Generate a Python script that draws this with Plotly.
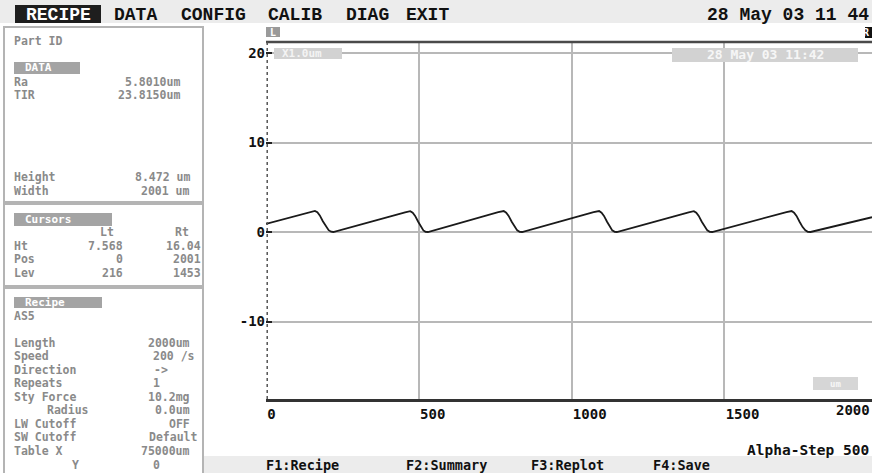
import plotly.graph_objects as go

# ---------------- data ----------------
profile_x_um = [0, 140, 152, 160, 168, 176, 186, 196, 205, 213, 220,
                455, 465, 472, 480, 488, 498, 507, 515, 522, 530,
                760, 770, 778, 786, 794, 804, 814, 822, 830, 838,
                1072, 1082, 1090, 1098, 1106, 1116, 1125, 1133, 1141, 1148,
                1383, 1393, 1400, 1408, 1416, 1426, 1436, 1444, 1452, 1460,
                1703, 1713, 1720, 1728, 1736, 1746, 1756, 1765, 1773, 1782,
                1983]
profile_y_um = [0.9, 2.2, 2.32, 2.35, 2.2, 1.85, 1.2, 0.6, 0.2, 0.03, 0.0,
                2.2, 2.32, 2.33, 2.15, 1.8, 1.15, 0.55, 0.18, 0.02, 0.0,
                2.22, 2.33, 2.34, 2.15, 1.8, 1.15, 0.55, 0.18, 0.02, 0.0,
                2.22, 2.33, 2.34, 2.15, 1.8, 1.15, 0.55, 0.18, 0.02, 0.0,
                2.2, 2.32, 2.33, 2.15, 1.8, 1.15, 0.55, 0.18, 0.02, 0.0,
                2.22, 2.33, 2.34, 2.15, 1.8, 1.15, 0.55, 0.18, 0.02, 0.0,
                1.65]

x_tick_vals = [0, 500, 1000, 1500, 2000]
y_tick_vals = [-10, 0, 10, 20]

menu_items = ["RECIPE", "DATA", "CONFIG", "CALIB", "DIAG", "EXIT"]
menu_clock = "28 May 03 11 44"
plot_stamp = "28 May 03 11:42"
scale_label = "X1.0um"
unit_label = "um"

data_labels = ["Ra", "TIR"]
data_values = ["5.8010um", "23.8150um"]
size_labels = ["Height", "Width"]
size_values = ["8.472 um", "2001 um"]

cursor_cols = ["Lt", "Rt"]
cursor_rows = ["Ht", "Pos", "Lev"]
cursor_lt = ["7.568", "0", "216"]
cursor_rt = ["16.04", "2001", "1453"]

recipe_name = "AS5"
recipe_labels = ["Length", "Speed", "Direction", "Repeats", "Sty Force",
                 "Radius", "LW Cutoff", "SW Cutoff", "Table X", "Y"]
recipe_values = ["2000um", "200 /s", "->", "1", "10.2mg",
                 "0.0um", "OFF", "Default", "75000um", "0"]

fkeys = ["F1:Recipe", "F2:Summary", "F3:Replot", "F4:Save"]
instrument = "Alpha-Step 500"

# ---------------- layout geometry (pixels) ----------------
W, H = 872, 473
ML, MR, MT, MB = 266, 0, 42, 74
PW, PH = W - ML - MR, H - MT - MB


def fx(px):
    return (px - ML) / PW


def fy(py):
    return (H - MB - py) / PH


shapes = []
ann = []

MONO = "Liberation Mono"
BOLDMONO = "DejaVu Sans Mono"
GREY_TXT = "#8a8a8a"
PANEL_SIZE = 11.5


def rect(x0, y0, x1, y1, fill=None, line=None, lw=0, layer="above"):
    shapes.append(dict(type="rect", xref="paper", yref="paper",
                       x0=fx(x0), x1=fx(x1), y0=fy(y1), y1=fy(y0),
                       fillcolor=fill if fill else "rgba(0,0,0,0)",
                       line=dict(color=line if line else "rgba(0,0,0,0)", width=lw),
                       layer=layer))


def text(s, px, py, anchor="left", size=PANEL_SIZE, color=GREY_TXT,
         family=BOLDMONO, bold=True):
    ann.append(dict(text=("<b>%s</b>" % s) if bold else s,
                    xref="paper", yref="paper", x=fx(px), y=fy(py),
                    xanchor=anchor, yanchor="middle", showarrow=False,
                    borderpad=0,
                    font=dict(family=family, size=size, color=color)))


# menu bar
rect(0, 0, W, 23, fill="#ececec")
rect(15, 5, 101, 23, fill="#1e1e1e")
menu_x = [25, 113, 180, 267, 345, 405]
for i, m in enumerate(menu_items):
    text(m, menu_x[i], 14.5, size=18, color="#ffffff" if i == 0 else "#111111",
         family=MONO)
text(menu_clock, 870, 14.5, anchor="right", size=18, color="#111111", family=MONO)

# left panels
rect(4, 27, 203, 202, line="#b4b4b4", lw=2)
rect(4, 204, 203, 286, line="#b4b4b4", lw=2)
rect(4, 288, 203, 480, line="#b4b4b4", lw=2)

text("Part ID", 13, 40.5)
rect(14, 62, 80, 74, fill="#a4a4a4")
text("DATA", 24, 68, size=11, color="#ffffff")
for lab, val, yy in zip(data_labels, data_values, [81.5, 95]):
    text(lab, 13, yy)
    text(val, 181, yy, anchor="right")
for lab, val, yy in zip(size_labels, size_values, [176.5, 191.5]):
    text(lab, 13, yy)
    text(val, 191, yy, anchor="right")

rect(14, 213, 112, 226, fill="#a4a4a4")
text("Cursors", 24, 219.2, size=11, color="#ffffff")
text(cursor_cols[0], 115, 232, anchor="right")
text(cursor_cols[1], 190, 232, anchor="right")
for lab, lt, rt, yy in zip(cursor_rows, cursor_lt, cursor_rt, [245.5, 259, 272.7]):
    text(lab, 13, yy)
    text(lt, 124, yy, anchor="right")
    text(rt, 202, yy, anchor="right")

rect(14, 297, 102, 308, fill="#a4a4a4")
text("Recipe", 24, 302.3, size=11, color="#ffffff")
text(recipe_name, 13, 315.8)
recipe_y = [342.5, 356, 369.5, 383, 396.5, 410, 423.5, 437, 450.5, 464.5]
recipe_left = [13, 13, 13, 13, 13, 46, 13, 13, 13, 71]
recipe_right = [191, 196, 169, 161, 191, 191, 191, 199, 191, 161]
for lab, val, yy, xl, xr in zip(recipe_labels, recipe_values, recipe_y,
                                recipe_left, recipe_right):
    text(lab, xl, yy)
    text(val, xr, yy, anchor="right")

# plot decorations
rect(266, 27, 280, 37, fill="#9a9a9a")
text("L", 273, 32, anchor="center", size=10, color="#ffffff")
rect(865, 27, 880, 38, fill="#111111")
text("R", 871, 32.5, anchor="right", size=10, color="#ffffff")

rect(274, 48, 342, 59, fill="#d2d2d2")
text(scale_label, 281, 53.5, size=11, color="#f4f4f4")
rect(672, 48, 858, 62, fill="#d2d2d2")
text(plot_stamp, 765, 55, anchor="center", size=13, color="#f6f6f6")
rect(813, 377, 858, 390, fill="#d6d6d6")
text(unit_label, 835, 383.5, anchor="center", size=9, color="#f6f6f6")

# top frame and dotted left axis
shapes.append(dict(type="line", xref="paper", yref="paper", x0=0, x1=1, y0=1, y1=1,
                   line=dict(color="#4a4a4a", width=2.5), layer="above"))
shapes.append(dict(type="line", xref="paper", yref="paper", x0=0.002, x1=0.002, y0=0, y1=1,
                   line=dict(color="#555555", width=1.5, dash="dot"), layer="above"))

# x tick label beyond the visible range
text(str(x_tick_vals[-1]), 835, 410, size=14, color="#111111")

# footer
rect(203, 456, W, H + 5, fill="#ececec", layer="below")
text(instrument, 870, 450, anchor="right", size=14.5, color="#111111")
fkey_x = [265, 405, 530, 652]
for k, xx in zip(fkeys, fkey_x):
    text(k, xx, 465, size=13.5, color="#111111")

# ---------------- figure ----------------
fig = go.Figure()
fig.add_trace(go.Scatter(x=profile_x_um, y=profile_y_um, mode="lines",
                         line=dict(color="#1a1a1a", width=1.8), hoverinfo="skip"))

fig.update_layout(
    width=W, height=H,
    margin=dict(l=ML, r=MR, t=MT, b=MB, pad=0),
    paper_bgcolor="#ffffff", plot_bgcolor="#ffffff",
    showlegend=False,
    shapes=shapes, annotations=ann,
    xaxis=dict(range=[0, 1983], tickvals=x_tick_vals,
               ticktext=[str(v) for v in x_tick_vals],
               ticklabelposition="outside right", ticks="", ticklen=0,
               tickfont=dict(family=BOLDMONO, size=14, color="#111111", weight="bold"),
               showgrid=True, gridcolor="#b8b8b8", gridwidth=1.5,
               zeroline=False, showline=True, linecolor="#333333", linewidth=2.5,
               mirror=False, fixedrange=True),
    yaxis=dict(range=[-18.66, 21.23], tickvals=y_tick_vals,
               ticktext=[str(v) for v in y_tick_vals],
               ticks="inside", ticklen=6, tickwidth=2, tickcolor="#222222",
               tickfont=dict(family=BOLDMONO, size=14, color="#111111", weight="bold"),
               showgrid=True, gridcolor="#b8b8b8", gridwidth=1.5,
               zeroline=False, showline=False, fixedrange=True),
)

fig.write_html("out.html")
